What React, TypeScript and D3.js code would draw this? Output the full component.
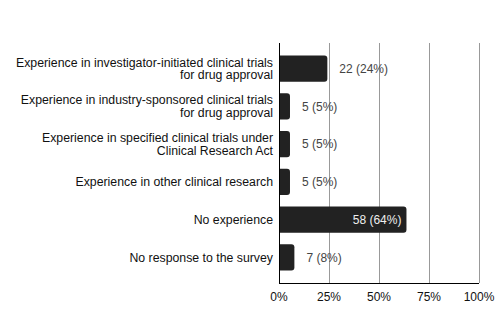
import * as d3 from "d3";

const categories = [
  ["Experience in investigator-initiated clinical trials", "for drug approval"],
  ["Experience in industry-sponsored clinical trials", "for drug approval"],
  ["Experience in specified clinical trials under", "Clinical Research Act"],
  ["Experience in other clinical research"],
  ["No experience"],
  ["No response to the survey"],
];
const counts = [22, 5, 5, 5, 58, 7];
const percentLabels = ["24%", "5%", "5%", "5%", "64%", "8%"];
const total = 91;
const ticks = [0, 25, 50, 75, 100];

const width = 503;
const height = 315;
const margin = { top: 43, right: 24, bottom: 32, left: 279 };
const font = "'Liberation Sans', Arial, sans-serif";

export default function App() {
  const innerW = width - margin.left - margin.right;
  const innerH = height - margin.top - margin.bottom;

  const x = d3.scaleLinear().domain([0, 100]).range([0, innerW]);
  const y = d3
    .scaleBand<number>()
    .domain(d3.range(categories.length))
    .range([0, innerH])
    .paddingInner(0.3)
    .paddingOuter(0.33);

  const barPath = (w: number, h: number) => {
    const r = Math.min(3, w / 2);
    return `M0,0H${w - r}Q${w},0 ${w},${r}V${h - r}Q${w},${h} ${w - r},${h}H0Z`;
  };

  return (
    <svg
      width={width}
      height={height}
      style={{ position: "absolute", left: 0, top: 0, background: "#fff" }}
      fontFamily={font}
    >
      <g transform={`translate(${margin.left},${margin.top})`}>
        {ticks.slice(1).map((t) => (
          <line
            key={t}
            x1={x(t)}
            x2={x(t)}
            y1={0}
            y2={innerH}
            stroke="#999"
            strokeWidth={1}
            shapeRendering="crispEdges"
          />
        ))}
        {counts.map((c, i) => {
          const pct = (c / total) * 100;
          const w = x(pct);
          const by = y(i)!;
          const bh = y.bandwidth();
          const inside = w > 100;
          const label = `${c} (${percentLabels[i]})`;
          return (
            <g key={i} transform={`translate(0,${by})`}>
              <path d={barPath(w, bh)} fill="#222" />
              <text
                x={inside ? w - 5 : w + 12}
                y={bh / 2}
                dy="0.35em"
                textAnchor={inside ? "end" : "start"}
                fontSize={12}
                fill={inside ? "#eee" : "#444"}
              >
                {label}
              </text>
              <text
                x={-6}
                y={bh / 2}
                textAnchor="end"
                fontSize={12.3}
                fill="#111"
              >
                {categories[i].map((line, j) => (
                  <tspan
                    key={j}
                    x={-6}
                    dy={j === 0 ? `${0.35 - ((categories[i].length - 1) * 1.02) / 2}em` : "1.02em"}
                  >
                    {line}
                  </tspan>
                ))}
              </text>
            </g>
          );
        })}
        <line x1={0} x2={0} y1={0} y2={innerH} stroke="#000" shapeRendering="crispEdges" />
        <line x1={0} x2={innerW} y1={innerH} y2={innerH} stroke="#000" shapeRendering="crispEdges" />
        {ticks.map((t) => (
          <text
            key={t}
            x={x(t)}
            y={innerH + 18}
            textAnchor="middle"
            fontSize={12}
            fill="#111"
          >
            {`${t}%`}
          </text>
        ))}
      </g>
    </svg>
  );
}
